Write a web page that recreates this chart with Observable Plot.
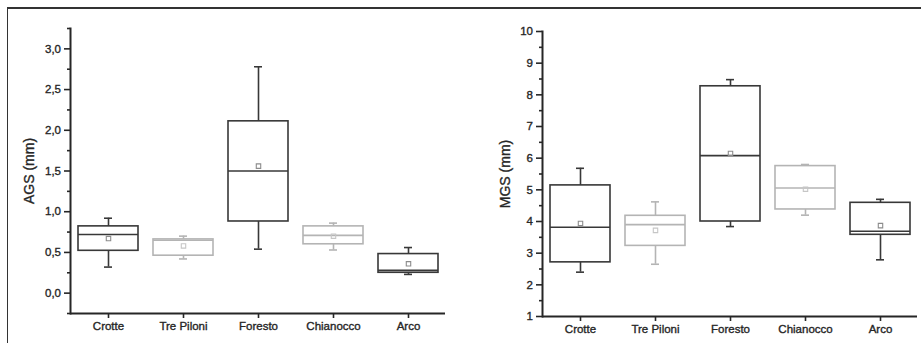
<!DOCTYPE html>
<html>
<head>
<meta charset="utf-8">
<script src="https://cdn.jsdelivr.net/npm/d3@7"></script>
<script src="https://cdn.jsdelivr.net/npm/@observablehq/plot@0.6"></script>
<style>
  html, body { margin: 0; padding: 0; background: #fff; overflow: hidden; }
  #wrap { position: relative; width: 921px; height: 343px; overflow: hidden; }
  #border { position: absolute; left: 7px; top: 7px; width: 940px; height: 360px;
            border-left: 1.5px solid #333; border-top: 2px solid #333; }
  .panel { position: absolute; top: 0; }
  .panel svg text { stroke: #262626; stroke-width: 0.35px; }
  #ags { left: 0; }
  #mgs { left: 460px; }
</style>
</head>
<body>
<div id="wrap">
  <div id="border"></div>
  <div id="ags" class="panel"></div>
  <div id="mgs" class="panel"></div>
</div>
<script>
// Sampling sites
const sites = ["Crotte", "Tre Piloni", "Foresto", "Chianocco", "Arco"];
// Box outline tone per site
const tones = ["dark", "light", "dark", "light", "dark"];

// AGS (mm): whisker low, Q1, median, Q3, whisker high, mean
const agsLow  = [0.32, 0.42, 0.54, 0.53, 0.23];
const agsQ1   = [0.52, 0.46, 0.88, 0.60, 0.25];
const agsMed  = [0.72, 0.65, 1.50, 0.71, 0.28];
const agsQ3   = [0.82, 0.66, 2.11, 0.82, 0.48];
const agsHigh = [0.92, 0.70, 2.78, 0.86, 0.56];
const agsMean = [0.67, 0.58, 1.56, 0.70, 0.36];

// MGS (mm): whisker low, Q1, median, Q3, whisker high, mean
const mgsLow  = [2.40, 2.65, 3.84, 4.20, 2.79];
const mgsQ1   = [2.71, 3.23, 4.00, 4.38, 3.58];
const mgsMed  = [3.82, 3.90, 6.08, 5.06, 3.69];
const mgsQ3   = [5.14, 4.18, 8.27, 5.75, 4.59];
const mgsHigh = [5.68, 4.62, 8.48, 5.80, 4.70];
const mgsMean = [3.94, 3.72, 6.15, 5.02, 3.87];

// Axis ticks
const agsTicks = [0, 0.5, 1.0, 1.5, 2.0, 2.5, 3.0];
const agsMinor = [-0.25, 0.25, 0.75, 1.25, 1.75, 2.25, 2.75, 3.25];
const mgsTicks = [1, 2, 3, 4, 5, 6, 7, 8, 9, 10];
const mgsMinor = [1.5, 2.5, 3.5, 4.5, 5.5, 6.5, 7.5, 8.5, 9.5];

const ink = "#262626";
const strokeFor = {dark: "#383838", light: "#b4b4b4"};
const meanFor = {dark: "#8c8c8c", light: "#c6c6c6"};

function table(low, q1, med, q3, high, mean) {
  return sites.map((site, i) => ({
    site, tone: tones[i], low: low[i], q1: q1[i], med: med[i],
    q3: q3[i], high: high[i], mean: mean[i]
  }));
}

function panel({data, domain, ticks, minor, fmt, label, width, margins, labelOffset}) {
  const stroke = d => strokeFor[d.tone];
  return Plot.plot({
    width, height: 343,
    marginLeft: margins[0], marginRight: margins[1],
    marginTop: margins[2], marginBottom: margins[3],
    style: {fontFamily: "'Liberation Sans', Arial, sans-serif", fontSize: "11.5px", color: ink, background: "transparent"},
    x: {type: "band", domain: sites, paddingInner: 0.2, paddingOuter: 0.1},
    y: {domain},
    marks: [
      Plot.axisY(minor, {tickSize: 3, tickFormat: () => "", label: null, stroke: ink, strokeWidth: 1.6}),
      Plot.axisY(ticks, {tickSize: 6, tickPadding: 3.5, tickFormat: fmt, stroke: ink, strokeWidth: 1.6,
        fill: ink, label: null}),
      Plot.axisY({ticks: [], label, labelAnchor: "center", labelArrow: "none", labelOffset,
        fontSize: 14, fill: ink}),
      Plot.axisX({tickSize: 5, tickPadding: 3, label: null, stroke: ink, strokeWidth: 1.6, fill: ink}),
      Plot.frame({anchor: "left", stroke: ink, strokeWidth: 2}),
      Plot.ruleY([domain[0]], {stroke: ink, strokeWidth: 2}),
      // whiskers
      Plot.ruleX(data, {x: "site", y1: "low", y2: "high", stroke, strokeWidth: 1.6}),
      Plot.tickY(data, {x: "site", y: "low", stroke, strokeWidth: 1.6, insetLeft: 26, insetRight: 26}),
      Plot.tickY(data, {x: "site", y: "high", stroke, strokeWidth: 1.6, insetLeft: 26, insetRight: 26}),
      // boxes
      Plot.barY(data, {x: "site", y1: "q1", y2: "q3", fill: "white", stroke, strokeWidth: 1.6}),
      Plot.tickY(data, {x: "site", y: "med", stroke, strokeWidth: 1.6}),
      // means
      Plot.dot(data, {x: "site", y: "mean", symbol: "square", r: 2.5, fill: "none",
        stroke: d => meanFor[d.tone], strokeWidth: 1.1})
    ]
  });
}

const comma = d => d.toFixed(1).replace(".", ",");

document.getElementById("ags").append(panel({
  data: table(agsLow, agsQ1, agsMed, agsQ3, agsHigh, agsMean),
  domain: [-0.25, 3.25], ticks: agsTicks, minor: agsMinor, fmt: comma,
  label: "AGS (mm)", width: 460, margins: [70, 15, 28, 30], labelOffset: 46
}));

document.getElementById("mgs").append(panel({
  data: table(mgsLow, mgsQ1, mgsMed, mgsQ3, mgsHigh, mgsMean),
  domain: [1, 10], ticks: mgsTicks, minor: mgsMinor, fmt: d => String(d),
  label: "MGS (mm)", width: 461, margins: [82, 4, 31, 27], labelOffset: 42
}));
</script>
</body>
</html>
